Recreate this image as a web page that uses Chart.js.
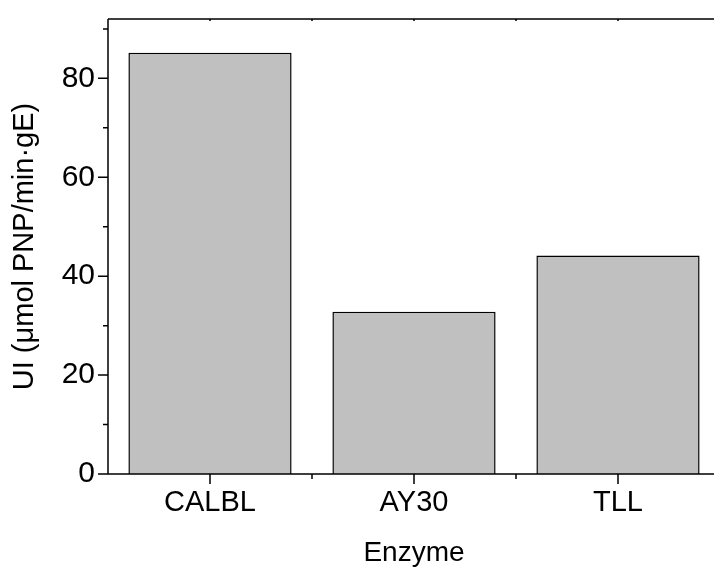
<!DOCTYPE html>
<html>
<head>
<meta charset="utf-8">
<script src="https://cdn.jsdelivr.net/npm/chart.js@4/dist/chart.umd.min.js"></script>
<style>
  html, body { margin: 0; padding: 0; background: #fff; overflow: hidden; }
  #wrap { width: 730px; height: 570px; position: relative; }
</style>
</head>
<body>
<div id="wrap"><canvas id="chart"></canvas></div>
<script>
// data
const enzymes = ['CALBL', 'AY30', 'TLL'];
const activity = [85.2, 32.8, 44.2];
const yTicks = [0, 20, 40, 60, 80];

const fontFam = '"Liberation Sans", Arial, sans-serif';

// draws the Origin-style frame and tick marks from the scales
const frame = {
  id: 'frame',
  afterDraw(chart) {
    const ctx = chart.ctx;
    const a = chart.chartArea;
    const xs = chart.scales.x, ys = chart.scales.y;
    ctx.save();
    ctx.strokeStyle = '#000';
    ctx.lineWidth = 1.5;
    ctx.beginPath();
    ctx.moveTo(a.left, a.top); ctx.lineTo(a.right, a.top);
    ctx.moveTo(a.left, a.top); ctx.lineTo(a.left, a.bottom);
    ctx.moveTo(a.left - 10, a.bottom); ctx.lineTo(a.right, a.bottom);
    // y ticks, major outward, minor halfway
    yTicks.forEach(v => {
      const py = ys.getPixelForValue(v);
      ctx.moveTo(a.left - 10, py); ctx.lineTo(a.left, py);
      const pm = ys.getPixelForValue(v + 10);
      if (pm > a.top) { ctx.moveTo(a.left - 5, pm); ctx.lineTo(a.left, pm); }
    });
    // x ticks at centres and between categories
    enzymes.forEach((c, i) => {
      const px = xs.getPixelForValue(i);
      ctx.moveTo(px, a.bottom); ctx.lineTo(px, a.bottom + 10);
      ctx.moveTo(px, a.top); ctx.lineTo(px, a.top + 2);
      if (i < enzymes.length - 1) {
        const pb = (px + xs.getPixelForValue(i + 1)) / 2;
        ctx.moveTo(pb, a.bottom); ctx.lineTo(pb, a.bottom + 5);
        ctx.moveTo(pb, a.top); ctx.lineTo(pb, a.top + 2);
      }
    });
    ctx.stroke();
    ctx.restore();
  }
};

new Chart(document.getElementById('chart'), {
  type: 'bar',
  data: {
    labels: enzymes,
    datasets: [{
      data: activity,
      backgroundColor: '#c0c0c0',
      borderColor: '#000',
      borderWidth: 1.5,
      barPercentage: 0.8,
      categoryPercentage: 1.0
    }]
  },
  options: {
    responsive: true,
    maintainAspectRatio: false,
    animation: false,
    layout: { padding: { top: 19, right: 10, left: 0, bottom: 0 } },
    plugins: { legend: { display: false }, tooltip: { enabled: false } },
    scales: {
      x: {
        offset: true,
        grid: { display: false, drawTicks: false, tickLength: 0 },
        border: { display: false },
        ticks: { color: '#000', padding: 12, font: { family: fontFam, size: 29 } },
        title: {
          display: true, text: 'Enzyme', color: '#000',
          font: { family: fontFam, size: 28 }, padding: { top: 0, bottom: 0 }
        },
        afterFit(s) { s.height = 96; s.paddingLeft = 0; s.paddingRight = 0; }
      },
      y: {
        min: 0,
        max: 92,
        grid: { display: false, drawTicks: false, tickLength: 0 },
        border: { display: false },
        ticks: {
          stepSize: 20, includeBounds: false, color: '#000', padding: 13,
          font: { family: fontFam, size: 30 }
        },
        title: {
          display: true, text: 'UI (μmol PNP/min·gE)', color: '#000',
          font: { family: fontFam, size: 29 }, padding: { top: 8, bottom: 0 }
        },
        afterFit(s) { s.width = 108; s.paddingTop = 0; s.paddingBottom = 0; }
      }
    }
  },
  plugins: [frame]
});
</script>
</body>
</html>
